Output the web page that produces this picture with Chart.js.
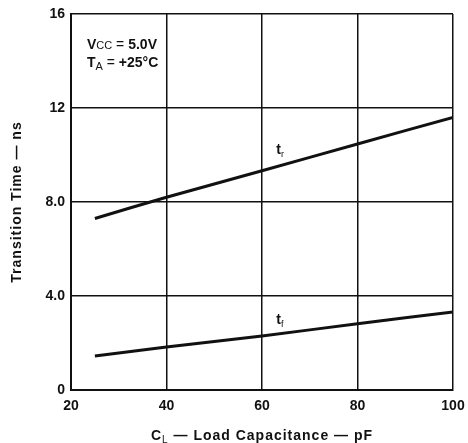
<!DOCTYPE html>
<html lang="en">
<head>
  <meta charset="UTF-8" />
  <title>Transition Time vs Load Capacitance</title>
  <script src="https://cdn.jsdelivr.net/npm/chart.js"></script>
  <style>
    body {
      margin: 0;
      padding: 0;
      background-color: #ffffff;
    }

    .chart-box {
      width: 468px;
      height: 443px;
    }
  </style>
</head>
<body>
  <div class="chart-box">
    <canvas id="ttChart" width="468" height="443"></canvas>
  </div>

  <script>
    // values
    const loadCap = [25, 40, 60, 80, 100];
    const riseTime = [7.3, 8.2, 9.33, 10.47, 11.6];
    const fallTime = [1.45, 1.83, 2.3, 2.82, 3.32];
    const xTicks = [20, 40, 60, 80, 100];
    const yTicks = [0, 4, 8, 12, 16];
    const yTickText = ['0', '4.0', '8.0', '12', '16'];

    const FONT = '"Liberation Sans", Arial, sans-serif';

    const toPoints = (xs, ys) => xs.map((x, i) => ({ x: x, y: ys[i] }));

    // draws a run of text pieces, some of them subscripts
    function drawRuns(ctx, x, y, runs) {
      runs.forEach(r => {
        ctx.font = (r.bold ? 'bold ' : '') + r.size + 'px ' + FONT;
        ctx.fillText(r.text, x, y + (r.sub ? 3 : 0));
        x += ctx.measureText(r.text).width;
      });
    }

    function runsWidth(ctx, runs) {
      let w = 0;
      runs.forEach(r => {
        ctx.font = (r.bold ? 'bold ' : '') + r.size + 'px ' + FONT;
        w += ctx.measureText(r.text).width;
      });
      return w;
    }

    const labelsPlugin = {
      id: 'labels',
      afterDraw(chart) {
        const ctx = chart.ctx;
        const xs = chart.scales.x, ys = chart.scales.y;
        const area = chart.chartArea;
        ctx.save();
        ctx.fillStyle = '#111';
        ctx.textAlign = 'left';
        ctx.textBaseline = 'alphabetic';

        // conditions box
        drawRuns(ctx, area.left + 16, area.top + 35, [
          { text: 'V', size: 14, bold: true },
          { text: 'CC', size: 11 },
          { text: ' = ', size: 14 },
          { text: '5.0V', size: 14, bold: true }
        ]);
        drawRuns(ctx, area.left + 16, area.top + 53, [
          { text: 'T', size: 14, bold: true },
          { text: 'A', size: 11, sub: true },
          { text: ' = ', size: 14 },
          { text: '+25°C', size: 14, bold: true }
        ]);

        // curve names
        drawRuns(ctx, xs.getPixelForValue(63), ys.getPixelForValue(10.04), [
          { text: 't', size: 14, bold: true },
          { text: 'r', size: 9, sub: true }
        ]);
        drawRuns(ctx, xs.getPixelForValue(63), ys.getPixelForValue(2.81), [
          { text: 't', size: 14, bold: true },
          { text: 'f', size: 9, sub: true }
        ]);

        // axis titles, spaced out like the printed sheet
        ctx.letterSpacing = '1px';
        const xt = [
          { text: 'C', size: 14, bold: true },
          { text: 'L', size: 10, sub: true },
          { text: ' \u2014 Load Capacitance \u2014 pF', size: 14, bold: true }
        ];
        const cx = (area.left + area.right) / 2;
        drawRuns(ctx, cx - runsWidth(ctx, xt) / 2, 440, xt);

        ctx.translate(21, (area.top + area.bottom) / 2);
        ctx.rotate(-Math.PI / 2);
        ctx.font = 'bold 14px ' + FONT;
        ctx.textAlign = 'center';
        ctx.fillText('Transition Time \u2014 ns', 0, 0);
        ctx.restore();
      }
    };

    const lineStyle = {
      showLine: true,
      borderColor: '#111',
      borderWidth: 3,
      pointRadius: 0,
      tension: 0.3,
      fill: false
    };

    new Chart(document.getElementById('ttChart').getContext('2d'), {
      type: 'scatter',
      data: {
        datasets: [
          Object.assign({ label: 'tr', data: toPoints(loadCap, riseTime) }, lineStyle),
          Object.assign({ label: 'tf', data: toPoints(loadCap, fallTime) }, lineStyle)
        ]
      },
      options: {
        responsive: false,
        animation: false,
        layout: { padding: { top: 14, right: 15, left: 0, bottom: 0 } },
        plugins: {
          legend: { display: false },
          tooltip: { enabled: false }
        },
        scales: {
          x: {
            type: 'linear',
            min: 20,
            max: 100,
            afterBuildTicks: s => { s.ticks = xTicks.map(v => ({ value: v })); },
            afterFit: s => { s.height = 53; s.paddingRight = 0; s.paddingLeft = 0; },
            ticks: {
              color: '#111',
              padding: 8,
              maxRotation: 0,
              font: { family: FONT, size: 14, weight: 'bold' }
            },
            grid: { color: '#111', lineWidth: 1.5, drawTicks: false },
            border: { color: '#111', width: 2 }
          },
          y: {
            min: 0,
            max: 16,
            afterBuildTicks: s => { s.ticks = yTicks.map(v => ({ value: v })); },
            afterFit: s => { s.width = 71; s.paddingTop = 0; s.paddingBottom = 0; },
            ticks: {
              color: '#111',
              padding: 6,
              font: { family: FONT, size: 14, weight: 'bold' },
              callback: v => yTickText[yTicks.indexOf(v)]
            },
            grid: { color: '#111', lineWidth: 1.5, drawTicks: false },
            border: { color: '#111', width: 2 }
          }
        }
      },
      plugins: [labelsPlugin]
    });
  </script>
</body>
</html>
